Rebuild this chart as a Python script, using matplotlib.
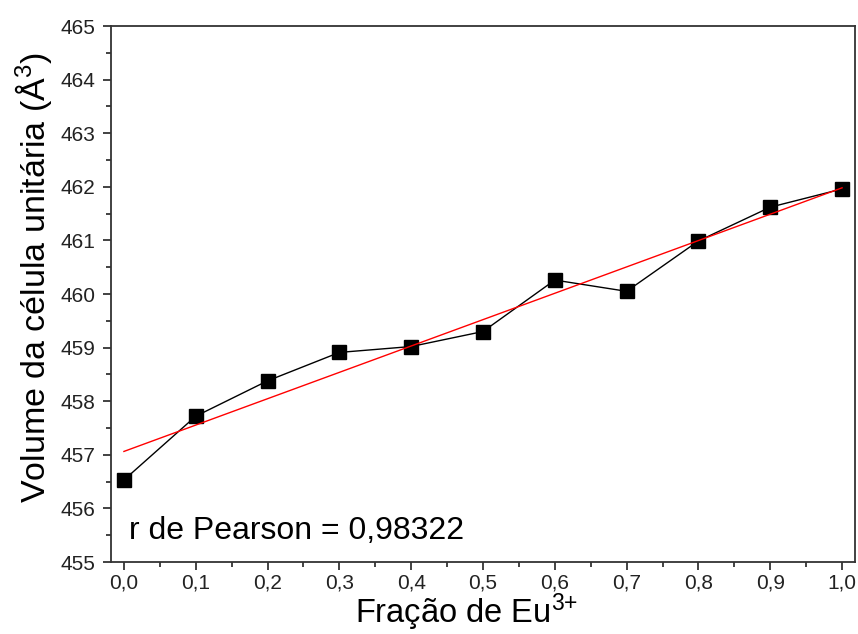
import matplotlib
matplotlib.use('Agg')
import matplotlib.pyplot as plt
import numpy as np
from matplotlib.ticker import MultipleLocator, FuncFormatter

plt.rcParams['font.family'] = ['Liberation Sans', 'DejaVu Sans']
plt.rcParams['mathtext.fontset'] = 'custom'
plt.rcParams['mathtext.rm'] = 'Liberation Sans'
plt.rcParams['mathtext.it'] = 'Liberation Sans'

# fração de Eu3+ e volume da célula unitária
fracao = [0.0, 0.1, 0.2, 0.3, 0.4, 0.5, 0.6, 0.7, 0.8, 0.9, 1.0]
volume = [456.53, 457.72, 458.38, 458.91, 459.02, 459.30, 460.26, 460.05, 460.99, 461.62, 461.96]
pearson = 0.98322

x = np.array(fracao)
y = np.array(volume)
a, b = np.polyfit(x, y, 1)

W, H = 858, 634
fig = plt.figure(figsize=(W / 100, H / 100), dpi=100)
ax = fig.add_axes([111/W, 1 - 562/H, (855-111)/W, (562-26)/H])

ax.plot(x, y, color='black', lw=1.0, marker='s', ms=9.5, mfc='black', mec='black', zorder=3)
ax.plot(x, a * x + b, color='red', lw=1.0, zorder=4)

ax.set_xlim(-0.018, 1.018)
ax.set_ylim(455, 465)
ax.xaxis.set_major_locator(MultipleLocator(0.1))
ax.xaxis.set_minor_locator(MultipleLocator(0.05))
ax.yaxis.set_major_locator(MultipleLocator(1))
ax.yaxis.set_minor_locator(MultipleLocator(0.5))
ax.xaxis.set_major_formatter(FuncFormatter(lambda v, p: f'{v:.1f}'.replace('.', ',')))
ax.yaxis.set_major_formatter(FuncFormatter(lambda v, p: f'{v:.0f}'))

ax.tick_params(which='both', direction='out', width=1.2, colors='#222222', labelcolor='#222222')
ax.tick_params(which='major', length=6, labelsize=15)
ax.tick_params(which='minor', length=3.5)
ax.tick_params(axis='x', pad=2.5)
ax.tick_params(axis='y', pad=5)
for s in ax.spines.values():
    s.set_linewidth(1.3)
    s.set_color('#333333')

# rótulos dos eixos
fig.text(355/W, 1 - 623/H, 'Fração de Eu$^{3{+}}$', fontsize=23.5, ha='left', va='baseline')
fig.text(45/W, 1 - 503/H, 'Volume da célula unitária (Å$^{3}$)', fontsize=24.5,
         rotation=90, rotation_mode='anchor', ha='left', va='baseline')

ax.text(0.007, 455.43, f'r de Pearson = {pearson:.5f}'.replace('.', ','), fontsize=23, ha='left', va='baseline')

fig.savefig('out.png', dpi=100)
